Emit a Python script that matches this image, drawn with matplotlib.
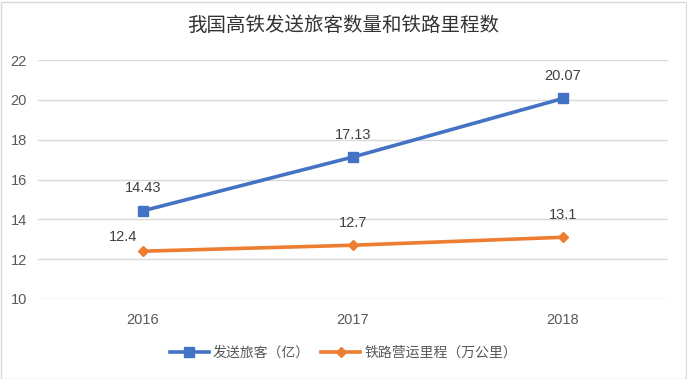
import matplotlib
matplotlib.use("Agg")
import matplotlib.pyplot as plt
from matplotlib.patches import Rectangle

plt.rcParams['font.family'] = ['Liberation Sans', 'Noto Sans CJK SC', 'DejaVu Sans']

years = ["2016", "2017", "2018"]
passengers = [14.43, 17.13, 20.07]
mileage = [12.4, 12.7, 13.1]
passenger_labels = ["14.43", "17.13", "20.07"]
mileage_labels = ["12.4", "12.7", "13.1"]
yticks = [10, 12, 14, 16, 18, 20, 22]

fig = plt.figure(figsize=(6.87, 3.79), dpi=100)
ax = fig.add_axes([38/687, 80/379, 630/687, 239/379])

x = list(range(len(years)))
blue = '#4472C4'
orange = '#ED7D31'
ax.plot(x, passengers, color=blue, lw=2.6, marker='s', markersize=7.5,
        label='发送旅客（亿）', zorder=3)
ax.plot(x, mileage, color=orange, lw=2.6, marker='D', markersize=5.5,
        label='铁路营运里程（万公里）', zorder=3)

for xi, v, t in zip(x, passengers, passenger_labels):
    ax.annotate(t, (xi, v), xytext=(0, 11), textcoords='offset points',
                ha='center', va='bottom', fontsize=10.5, color='#404040')
m_offsets = [(-14, 5), (0, 11), (0, 11)]
for xi, v, t, off in zip(x, mileage, mileage_labels, m_offsets):
    ax.annotate(t, (xi, v), xytext=off, textcoords='offset points',
                ha='center', va='bottom', fontsize=10.5, color='#404040')

ax.set_xlim(-0.5, 2.5)
ax.set_ylim(10, 22)
ax.set_yticks(yticks)
ax.set_xticks(x)
ax.set_xticklabels(years)
ax.grid(axis='y', color='#D9D9D9', lw=1)
ax.set_axisbelow(True)
for s in ax.spines.values():
    s.set_visible(False)
ax.tick_params(length=0, labelsize=10.5, colors='#595959', pad=8)
ax.tick_params(axis='x', pad=10)

fig.text(0.5, 1 - 26/379, '我国高铁发送旅客数量和铁路里程数', ha='center', va='center',
         fontsize=14, color='#333333')

leg = fig.legend(loc='center', bbox_to_anchor=(0.5, 1 - 353/379), ncol=2, frameon=False,
                 fontsize=10, handlelength=2.8, columnspacing=0.8, handletextpad=0.3)
for t in leg.get_texts():
    t.set_color('#595959')

fig.add_artist(Rectangle((0.5/687, 0.5/379), 685/687, 377/379, transform=fig.transFigure,
                         fill=False, edgecolor='#D9D9D9', lw=1))

fig.savefig('out.png', dpi=100)
